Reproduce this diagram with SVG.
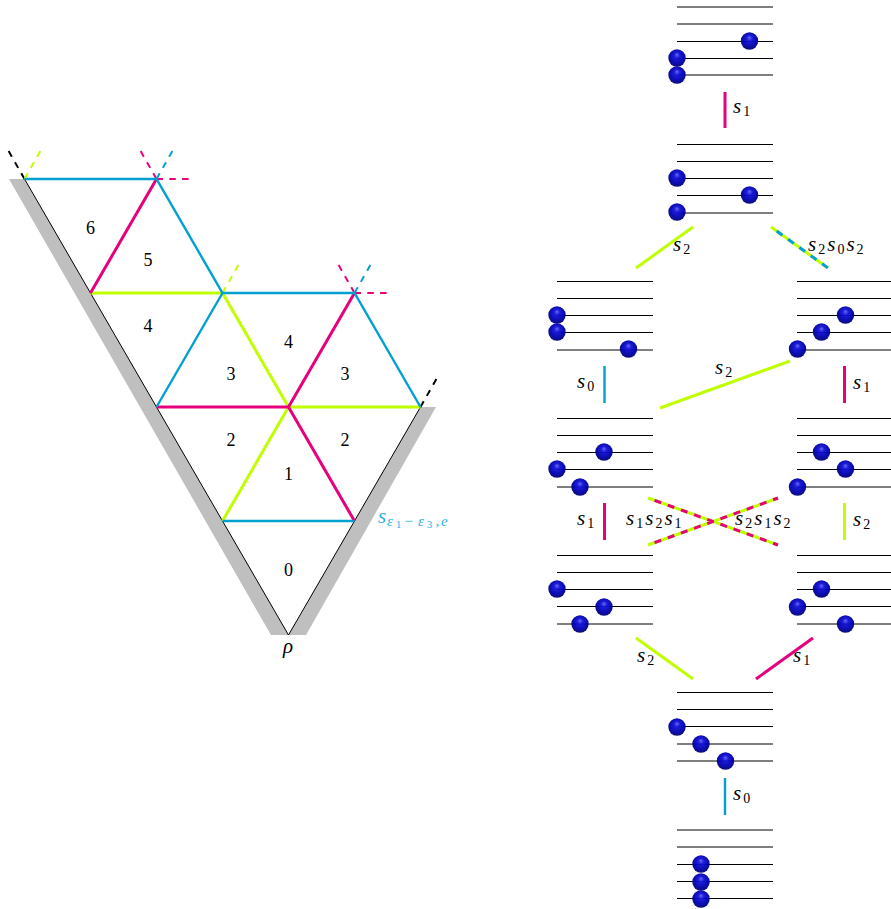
<svg xmlns="http://www.w3.org/2000/svg" width="891" height="909" viewBox="0 0 891 909">
<style>
.m{font-family:"Liberation Serif",serif;font-style:italic;font-size:21px;fill:#000}
.n{font-family:"Liberation Serif",serif;font-size:18px;fill:#000;text-anchor:middle}
.sub{font-size:14px;font-style:normal}
.wall{fill:#bfbfbf;stroke:none}
.b{stroke:#000;stroke-width:1;fill:none}
.c{stroke:#00a0d0;stroke-width:2.4;fill:none}
.g{stroke:#e6007e;stroke-width:3;fill:none}
.l{stroke:#bfff00;stroke-width:3;fill:none}
.d{stroke-dasharray:6.5 6.3}
.d2{stroke-width:2}
.x{stroke-dasharray:7 7}
.r{stroke:#000;stroke-width:1.1;fill:none}
.e{font-size:15px;font-style:italic}
.f{font-size:10.5px;font-style:normal}
</style>
<defs>
<radialGradient id="bg" cx="0.5" cy="0.45" r="0.55" fx="0.5" fy="0.3">
<stop offset="0" stop-color="#6060f0"/>
<stop offset="0.3" stop-color="#1010d8"/>
<stop offset="0.7" stop-color="#0000b0"/>
<stop offset="1" stop-color="#000070"/>
</radialGradient>
<g id="ball"><circle r="8.7" fill="url(#bg)" fill-opacity="0.95"/></g>
</defs>

<g id="walls">
<polygon class="wall" points="9,179 24.5,179 288.5,635 271,635"/>
<polygon class="wall" points="288.5,635 306,635 436,407 420.5,407"/>
</g>

<g id="connectors">
<path class="b" d="M24.5 179L288.5 635L420.5 407"/>
<path class="b d d2" d="M24.5 179L8 150"/>
<path class="b d d2" d="M420.5 407L437 378"/>
<path class="l d d2" d="M24.5 179L41.5 149"/>
<path class="g d d2" d="M156.5 179L140 150M354.5 293L338 264"/>
<path class="c d d2" d="M156.5 179L173 150M354.5 293L371 264"/>
<path class="g d d2" d="M156.5 179H190M354.5 293H388"/>
<path class="l d d2" d="M222.5 293L239 264"/>
<path class="l" d="M90.5 293H222.5L288.5 407M288.5 407H420.5M288.5 407L222.5 521"/>
<path class="g" d="M156.5 179L90.5 293M354.5 293L288.5 407M156.5 407H288.5L354.5 521"/>
<path class="c" d="M24.5 179H156.5L222.5 293H354.5L420.5 407M222.5 293L156.5 407M222.5 521H354.5"/>

<path class="g" d="M725 92V128M844.5 366V403M604.5 503V540M813 638L756 679"/>
<path class="c" d="M604.5 366V403M725 778V815"/>
<path class="l" d="M693 227L636 268M660 408L790 361M844.5 503V540M636 638L693 679"/>
<path class="l" d="M771 227L828 268"/>
<path class="c x d2" d="M771 227L828 268" style="stroke-dashoffset:-7;stroke-width:3"/>
<path class="l" d="M648 498L778 545M648 545L778 498"/>
<path class="g x" style="stroke-dashoffset:-7" d="M648 498L778 545M648 545L778 498"/>
</g>

<g id="triangle-labels">
<text class="n" x="90.5" y="234">6</text>
<text class="n" x="148" y="266">5</text>
<text class="n" x="148" y="332">4</text>
<text class="n" x="231" y="380">3</text>
<text class="n" x="288.5" y="348">4</text>
<text class="n" x="345" y="380">3</text>
<text class="n" x="231" y="446">2</text>
<text class="n" x="345" y="446">2</text>
<text class="n" x="288.5" y="480">1</text>
<text class="n" x="288.5" y="576">0</text>
<text class="m" x="283" y="653">ρ</text>
<text class="m" x="378" y="523" style="fill:#2ab0de">s<tspan class="e" x="387" y="526">ε</tspan><tspan class="f" x="396" y="528">1</tspan><tspan class="e" x="404.5" y="526" style="font-style:normal">−</tspan><tspan class="e" x="418" y="526">ε</tspan><tspan class="f" x="427" y="528">3</tspan><tspan class="e" x="435.5" y="526">,</tspan><tspan class="e" x="441" y="526">e</tspan></text>
</g>

<g id="state-1">
<path class="r" d="M677 7H773M677 24H773M677 41.5H773M677 58.5H773M677 75H773"/>
<use href="#ball" x="749.5" y="41"/><use href="#ball" x="677" y="58"/><use href="#ball" x="677" y="75"/>
</g>
<g id="state-2">
<path class="r" d="M677 144.5H773M677 161.5H773M677 178.5H773M677 195.5H773M677 213H773"/>
<use href="#ball" x="677" y="178"/><use href="#ball" x="749.5" y="195"/><use href="#ball" x="677" y="212"/>
</g>
<g id="state-3">
<path class="r" d="M557 281.5H653M557 298.5H653M557 315.5H653M557 332.5H653M557 350H653"/>
<use href="#ball" x="557" y="315"/><use href="#ball" x="557" y="332"/><use href="#ball" x="628.5" y="349"/>
</g>
<g id="state-4">
<path class="r" d="M797 281.5H891M797 298.5H891M797 315.5H891M797 332.5H891M797 350H891"/>
<use href="#ball" x="845.5" y="315"/><use href="#ball" x="821.5" y="332"/><use href="#ball" x="797.5" y="349"/>
</g>
<g id="state-5">
<path class="r" d="M557 418.5H653M557 435.5H653M557 452.5H653M557 469.5H653M557 487H653"/>
<use href="#ball" x="604" y="452"/><use href="#ball" x="557" y="469"/><use href="#ball" x="580" y="487"/>
</g>
<g id="state-6">
<path class="r" d="M797 418.5H891M797 435.5H891M797 452.5H891M797 469.5H891M797 487H891"/>
<use href="#ball" x="821.5" y="452"/><use href="#ball" x="845.5" y="469"/><use href="#ball" x="797.5" y="487"/>
</g>
<g id="state-7">
<path class="r" d="M557 555.5H653M557 572.5H653M557 589.5H653M557 606.5H653M557 624H653"/>
<use href="#ball" x="557" y="589"/><use href="#ball" x="604" y="607"/><use href="#ball" x="580" y="624"/>
</g>
<g id="state-8">
<path class="r" d="M797 555.5H891M797 572.5H891M797 589.5H891M797 606.5H891M797 624H891"/>
<use href="#ball" x="821.5" y="589"/><use href="#ball" x="797.5" y="607"/><use href="#ball" x="845.5" y="624"/>
</g>
<g id="state-9">
<path class="r" d="M677 692.5H773M677 709.5H773M677 726.5H773M677 744H773M677 761H773"/>
<use href="#ball" x="677" y="727"/><use href="#ball" x="701" y="744"/><use href="#ball" x="725.5" y="761"/>
</g>
<g id="state-10">
<path class="r" d="M677 830H773M677 847H773M677 864.5H773M677 881.5H773M677 898.5H773"/>
<use href="#ball" x="701" y="864"/><use href="#ball" x="701" y="882"/><use href="#ball" x="701" y="899"/>
</g>

<g id="edge-labels">
<text class="m" x="733" y="113">s<tspan class="sub" dx="2" dy="3">1</tspan></text>
<text class="m" x="673" y="251">s<tspan class="sub" dx="2" dy="3">2</tspan></text>
<text class="m" x="808" y="251">s<tspan class="sub" dx="2" dy="3">2</tspan><tspan dx="2" dy="-3">s</tspan><tspan class="sub" dx="2" dy="3">0</tspan><tspan dx="2" dy="-3">s</tspan><tspan class="sub" dx="2" dy="3">2</tspan></text>
<text class="m" x="577" y="388">s<tspan class="sub" dx="2" dy="3">0</tspan></text>
<text class="m" x="715" y="374">s<tspan class="sub" dx="2" dy="3">2</tspan></text>
<text class="m" x="853" y="389">s<tspan class="sub" dx="2" dy="3">1</tspan></text>
<text class="m" x="577" y="525">s<tspan class="sub" dx="2" dy="3">1</tspan></text>
<text class="m" x="853" y="526">s<tspan class="sub" dx="2" dy="3">2</tspan></text>
<text class="m" x="626" y="525">s<tspan class="sub" dx="2" dy="3">1</tspan><tspan dx="2" dy="-3">s</tspan><tspan class="sub" dx="2" dy="3">2</tspan><tspan dx="2" dy="-3">s</tspan><tspan class="sub" dx="2" dy="3">1</tspan></text>
<text class="m" x="735" y="525">s<tspan class="sub" dx="2" dy="3">2</tspan><tspan dx="2" dy="-3">s</tspan><tspan class="sub" dx="2" dy="3">1</tspan><tspan dx="2" dy="-3">s</tspan><tspan class="sub" dx="2" dy="3">2</tspan></text>
<text class="m" x="637" y="662">s<tspan class="sub" dx="2" dy="3">2</tspan></text>
<text class="m" x="793" y="662">s<tspan class="sub" dx="2" dy="3">1</tspan></text>
<text class="m" x="733" y="800">s<tspan class="sub" dx="2" dy="3">0</tspan></text>
</g>
</svg>
